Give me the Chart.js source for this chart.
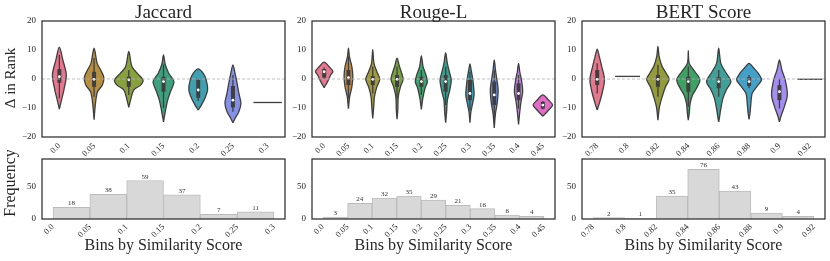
<!DOCTYPE html>
<html>
<head>
<meta charset="utf-8">
<script src="https://cdn.jsdelivr.net/npm/chart.js@4.4.1/dist/chart.umd.min.js"></script>
<style>
  html, body { margin: 0; padding: 0; background: #fff; }
  #wrap { position: relative; width: 830px; height: 261px; overflow: hidden; }
  canvas { position: absolute; }
</style>
</head>
<body>
<div id="wrap">
  <canvas id="vJ" width="290" height="160" style="left:0;top:0"></canvas>
  <canvas id="vR" width="270" height="160" style="left:290px;top:0"></canvas>
  <canvas id="vB" width="270" height="160" style="left:560px;top:0"></canvas>
  <canvas id="hJ" width="290" height="111" style="left:0;top:150px"></canvas>
  <canvas id="hR" width="270" height="111" style="left:290px;top:150px"></canvas>
  <canvas id="hB" width="270" height="111" style="left:560px;top:150px"></canvas>
</div>
<script>
// categories (also used as histogram bin edge labels)
const jaccardCats = ['0.0', '0.05', '0.1', '0.15', '0.2', '0.25', '0.3'];
const rougeCats = ['0.0', '0.05', '0.1', '0.15', '0.2', '0.25', '0.3', '0.35', '0.4', '0.45'];
const bertCats = ['0.78', '0.8', '0.82', '0.84', '0.86', '0.88', '0.9', '0.92'];

// violin outlines: [delta in rank, half width] from bottom tip to top tip
const jaccardShapes = [
  [[-10.4, 0], [-7.3, 0.06], [-3.8, 0.13], [1.4, 0.2], [6.6, 0.1], [11.0, 0]],
  [[-14.0, 0], [-8.4, 0.04], [-4.4, 0.1], [-2.1, 0.24], [0.6, 0.28], [3.1, 0.19], [5.4, 0.09], [10.6, 0]],
  [[-9.8, 0], [-7.3, 0.05], [-3.8, 0.14], [-2.1, 0.34], [-0.3, 0.41], [2.0, 0.24], [4.3, 0.09], [9.5, 0]],
  [[-14.8, 0], [-10.7, 0.06], [-7.3, 0.12], [-4.4, 0.2], [-0.9, 0.3], [2.0, 0.15], [5.0, 0.05], [8.3, 0]],
  [[-10.7, 0], [-9.0, 0.09], [-6.7, 0.19], [-3.8, 0.27], [-0.3, 0.23], [2.0, 0.14], [3.5, 0]],
  [[-15.1, 0], [-13.6, 0.06], [-11.3, 0.17], [-8.4, 0.23], [-4.9, 0.17], [-1.5, 0.12], [2.0, 0.06], [4.9, 0]],
  [[-8.1, 0.41]]
];
const rougeShapes = [
  [[-3.0, 0], [-0.9, 0.14], [1.4, 0.27], [2.6, 0.36], [4.3, 0.2], [5.8, 0]],
  [[-10.2, 0], [-6.1, 0.05], [-2.7, 0.14], [0.8, 0.18], [4.3, 0.14], [7.7, 0.04], [10.6, 0]],
  [[-13.6, 0], [-9.6, 0.04], [-6.1, 0.07], [-2.7, 0.17], [-0.1, 0.29], [2.5, 0.17], [5.4, 0.05], [10.1, 0]],
  [[-13.9, 0], [-10.7, 0.03], [-6.1, 0.05], [-2.7, 0.14], [-0.1, 0.25], [2.0, 0.19], [4.3, 0.1], [7.2, 0]],
  [[-10.5, 0], [-6.7, 0.06], [-3.2, 0.15], [-0.9, 0.25], [1.4, 0.19], [4.3, 0.07], [8.0, 0]],
  [[-15.1, 0], [-11.3, 0.04], [-7.3, 0.07], [-3.8, 0.17], [-0.3, 0.23], [2.5, 0.15], [5.4, 0.07], [9.1, 0]],
  [[-15.1, 0], [-11.3, 0.04], [-8.4, 0.11], [-5.5, 0.17], [-2.7, 0.15], [0.2, 0.11], [3.1, 0.05], [5.2, 0]],
  [[-16.9, 0], [-11.9, 0.05], [-8.4, 0.12], [-3.8, 0.16], [0.2, 0.1], [3.1, 0.05], [6.6, 0]],
  [[-15.7, 0], [-11.3, 0.05], [-7.9, 0.1], [-4.4, 0.17], [-0.3, 0.12], [2.5, 0.05], [5.4, 0]],
  [[-12.8, 0], [-10.7, 0.24], [-9.0, 0.4], [-7.3, 0.24], [-5.5, 0]]
];
const bertShapes = [
  [[-10.7, 0], [-8.4, 0.07], [-5.0, 0.16], [-0.3, 0.24], [4.3, 0.15], [7.7, 0.07], [10.3, 0]],
  [[0.9, 0.41]],
  [[-14.2, 0], [-9.6, 0.05], [-6.1, 0.14], [-2.7, 0.25], [-0.1, 0.37], [2.0, 0.27], [4.3, 0.14], [7.7, 0.04], [11.2, 0]],
  [[-14.2, 0], [-11.9, 0.03], [-8.4, 0.06], [-5.5, 0.14], [-3.2, 0.27], [-0.3, 0.38], [2.5, 0.22], [5.4, 0.03], [9.8, 0]],
  [[-14.8, 0], [-13.0, 0.03], [-10.2, 0.07], [-6.7, 0.14], [-3.8, 0.25], [-0.9, 0.4], [2.5, 0.22], [5.4, 0.07], [10.6, 0]],
  [[-13.9, 0], [-11.9, 0.03], [-8.4, 0.06], [-5.0, 0.1], [-2.7, 0.25], [-0.3, 0.41], [2.0, 0.3], [3.7, 0.16], [5.4, 0]],
  [[-14.8, 0], [-12.5, 0.06], [-9.6, 0.16], [-5.5, 0.26], [-0.3, 0.19], [3.1, 0.08], [6.6, 0]],
  [[-0.1, 0.41]]
];

// inner boxes: [whisker low, q1, median, q3, whisker high]
const jaccardBoxes = [
  [-6.7, -1.3, 0.8, 3.4, 8.3], [-6.1, -2.7, -0.1, 2.5, 7.2], [-5.5, -2.7, -0.3, 0.8, 3.1],
  [-10.0, -4.4, -0.9, 0.8, 5.0], [-7.6, -6.5, -3.8, -0.3, 0.3], [-11.3, -9.8, -7.3, -2.4, 1.4], null
];
const rougeBoxes = [
  [0.0, 0.5, 2.5, 3.4, 4.0], [-6.7, -2.1, 0.5, 3.1, 7.7], [-5.0, -2.1, -0.1, 1.0, 4.3],
  [-6.7, -2.7, -0.1, 1.4, 4.3], [-5.5, -2.7, -0.9, 0.8, 3.1], [-9.0, -4.4, -0.9, 1.4, 4.3],
  [-10.7, -7.3, -5.0, -0.3, 2.5], [-14.2, -9.0, -5.5, -0.9, 3.1], [-10.2, -7.3, -5.0, -1.5, 1.4],
  [-10.4, -10.2, -9.0, -7.9, -7.6]
];
const bertBoxes = [
  [-5.0, -2.1, -0.1, 3.1, 5.4], null, [-6.1, -2.7, -0.1, 1.4, 4.9], [-9.6, -4.4, -0.9, 0.8, 4.3],
  [-6.1, -3.2, -0.9, 0.6, 3.1], [-3.2, -2.4, -0.9, 0.6, 1.4], [-10.2, -7.3, -4.4, -2.1, 0.2], null
];

const jaccardColors = ['#e5778e', '#b69040', '#89a03e', '#3fa07f', '#40a0b2', '#8590e8', '#d26fcb'];
const rougeColors = ['#e5778e', '#c58a41', '#a09a3c', '#78a33e', '#3da36f', '#3c9f90', '#3f9fb5', '#7093e2', '#c07ee6', '#e06ec6'];
const bertColors = ['#e5778e', '#c58d41', '#939b3c', '#3fa265', '#40a098', '#44a0c6', '#a48ff0', '#e06cd0'];

// histograms
const jaccardEdges = [0, 0.05, 0.1, 0.15, 0.2, 0.25, 0.3];
const jaccardCounts = [18, 38, 59, 37, 7, 11];
const rougeEdges = [0, 0.05, 0.1, 0.15, 0.2, 0.25, 0.3, 0.35, 0.4, 0.45];
const rougeCounts = [3, 24, 32, 35, 29, 21, 16, 6, 4];
const bertEdges = [0.78, 0.8, 0.82, 0.84, 0.86, 0.88, 0.9, 0.92];
const bertCounts = [2, 1, 35, 76, 43, 9, 4];

const rankTicks = [-20, -10, 0, 10, 20];
const freqTicks = [0, 50];

const serif = '"Liberation Serif", "DejaVu Serif", serif';
const ink = '#262626';
const edge = '#3f3f3f';

Chart.defaults.font.family = serif;
Chart.defaults.color = ink;
Chart.defaults.animation = false;
Chart.defaults.events = [];
Chart.defaults.plugins.legend.display = false;
Chart.defaults.plugins.tooltip.enabled = false;

const frame = {
  id: 'frame',
  afterDatasetsDraw(chart) {
    const {ctx, chartArea: a} = chart;
    ctx.save();
    ctx.strokeStyle = ink;
    ctx.lineWidth = 1.2;
    ctx.strokeRect(a.left, a.top, a.right - a.left, a.bottom - a.top);
    ctx.restore();
  }
};

// panel title above the plot and the rotated y title on the left
const labels = {
  id: 'labels',
  afterDraw(chart, args, opts) {
    const {ctx, chartArea: a} = chart;
    ctx.save();
    ctx.fillStyle = ink;
    ctx.textAlign = 'center';
    if (opts.title) {
      ctx.font = '19px ' + serif;
      ctx.fillText(opts.title, (a.left + a.right) / 2, a.top - 3);
    }
    if (opts.side) {
      ctx.font = opts.sideSize + 'px ' + serif;
      ctx.textBaseline = 'middle';
      ctx.translate(11, (a.top + a.bottom) / 2 + opts.sideShift);
      ctx.rotate(-Math.PI / 2);
      ctx.fillText(opts.side, 0, 0);
    }
    ctx.restore();
  }
};

const countLabels = {
  id: 'countLabels',
  afterDatasetsDraw(chart, args, opts) {
    if (!opts.show) return;
    const {ctx} = chart;
    const ds = chart.data.datasets[0];
    ctx.save();
    ctx.font = '7px ' + serif;
    ctx.fillStyle = '#333';
    ctx.textAlign = 'center';
    chart.getDatasetMeta(0).data.forEach((bar, i) => {
      ctx.fillText(ds.data[i].y, bar.x, bar.y - 2);
    });
    ctx.restore();
  }
};

function minus(v) {
  return v < 0 ? '\u2212' + Math.abs(v) : String(v);
}

function yAxis(ticks, min, max, width) {
  return {
    min: min, max: max,
    grid: {display: false, drawTicks: false},
    border: {display: false},
    afterBuildTicks: s => { s.ticks = ticks.map(v => ({value: v})); },
    afterFit: s => { s.width = width; s.paddingTop = 0; s.paddingBottom = 0; },
    ticks: {font: {size: 9}, padding: 6, color: ink, callback: v => minus(v)}
  };
}

function xAxis(values, names, min, max, height, title, pad) {
  return {
    type: 'linear', offset: false, min: min, max: max,
    grid: {display: false, drawTicks: false},
    border: {display: false},
    afterBuildTicks: s => { s.ticks = values.map(v => ({value: v})); },
    afterFit: s => { s.height = height; s.paddingLeft = 0; s.paddingRight = 0; },
    ticks: {font: {size: 8.5}, padding: pad, color: ink, autoSkip: false, minRotation: 45, maxRotation: 45,
            callback: (v, i) => names[i]},
    title: {display: !!title, text: title, font: {size: 16}, padding: {top: 0, bottom: 6}, color: ink}
  };
}

function violinChart(id, cats, shapes, boxes, colors, title, yTitle, axisW) {
  const datasets = [];
  shapes.forEach((s, i) => {
    let pts;
    if (s.length === 1) {
      pts = [{x: i - s[0][1], y: s[0][0]}, {x: i + s[0][1], y: s[0][0]}];
    } else {
      const right = s.map(p => ({x: i + p[1], y: p[0]}));
      const left = s.slice(1, -1).reverse().map(p => ({x: i - p[1], y: p[0]}));
      pts = right.concat(left, [right[0]]);
    }
    datasets.push({data: pts, fill: s.length > 1 ? 'shape' : false, backgroundColor: colors[i],
      borderColor: edge, borderWidth: 1.3, tension: 0.3, pointRadius: 0, order: 5});
    const b = boxes[i];
    if (!b) return;
    datasets.push({data: [{x: i, y: b[0]}, {x: i, y: b[4]}], borderColor: edge, borderWidth: 1.3, pointRadius: 0, order: 3});
    datasets.push({data: [{x: i, y: b[1]}, {x: i, y: b[3]}], borderColor: edge, borderWidth: 4, pointRadius: 0, order: 2});
    datasets.push({data: [{x: i, y: b[2]}], showLine: false, pointRadius: 1.4, backgroundColor: '#fff', borderWidth: 0, order: 1});
  });
  datasets.push({data: [{x: -0.5, y: 0}, {x: cats.length - 0.5, y: 0}], borderColor: 'rgba(175,175,175,0.8)',
    borderDash: [3, 2], borderWidth: 1.2, pointRadius: 0, order: 0});

  const idx = cats.map((c, i) => i);
  new Chart(document.getElementById(id), {
    type: 'line',
    data: {datasets: datasets},
    plugins: [frame, labels],
    options: {
      responsive: false,
      layout: {padding: {top: 21, right: 5, left: 0, bottom: 0}},
      plugins: {labels: {title: title, side: yTitle, sideSize: 15, sideShift: -1}},
      scales: {
        x: xAxis(idx, cats, -0.5, cats.length - 0.5, 23, '', 4),
        y: yAxis(rankTicks, -20, 20, axisW)
      }
    }
  });
}

function histChart(id, edges, counts, names, yTitle, axisW) {
  const span = edges[edges.length - 1] - edges[0];
  const bars = counts.map((c, i) => ({x: (edges[i] + edges[i + 1]) / 2, y: c}));
  new Chart(document.getElementById(id), {
    type: 'bar',
    data: {datasets: [{data: bars, backgroundColor: '#d8d8d8', borderColor: '#bcbcbc', borderWidth: 1,
      barPercentage: 1, categoryPercentage: 1}]},
    plugins: [frame, countLabels, labels],
    options: {
      responsive: false,
      layout: {padding: {top: 9, right: 5, left: 0, bottom: 0}},
      plugins: {countLabels: {show: true}, labels: {side: yTitle, sideSize: 16, sideShift: -6}},
      scales: {
        x: xAxis(edges, names, edges[0] - 0.05 * span, edges[edges.length - 1] + 0.05 * span, 42, 'Bins by Similarity Score', 3),
        y: yAxis(freqTicks, 0, 92, axisW)
      }
    }
  });
}

violinChart('vJ', jaccardCats, jaccardShapes, jaccardBoxes, jaccardColors, 'Jaccard', '\u0394 in Rank', 42);
violinChart('vR', rougeCats, rougeShapes, rougeBoxes, rougeColors, 'Rouge-L', '', 22);
violinChart('vB', bertCats, bertShapes, bertBoxes, bertColors, 'BERT Score', '', 22);
histChart('hJ', jaccardEdges, jaccardCounts, jaccardCats, 'Frequency', 42);
histChart('hR', rougeEdges, rougeCounts, rougeCats, '', 22);
histChart('hB', bertEdges, bertCounts, bertCats, '', 22);
</script>
</body>
</html>
